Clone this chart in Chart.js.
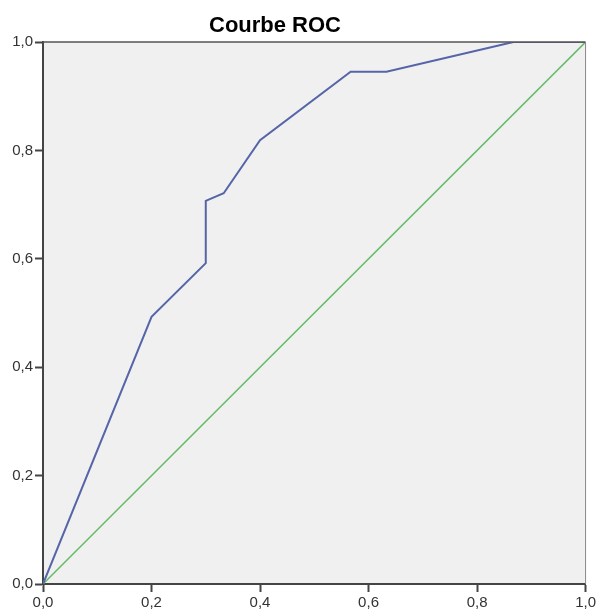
<!DOCTYPE html>
<html>
<head>
<meta charset="utf-8">
<script src="https://cdn.jsdelivr.net/npm/chart.js@4"></script>
<style>
  html, body { margin: 0; padding: 0; background: #fff; }
  #wrap { width: 598px; height: 612px; }
</style>
</head>
<body>
<div id="wrap"><canvas id="roc" width="598" height="612"></canvas></div>
<script>
// courbe ROC (1 - specificite, sensibilite)
var rocX = [0, 0.2, 0.3, 0.3, 0.333, 0.4, 0.567, 0.633, 0.867, 1];
var rocY = [0, 0.493, 0.592, 0.707, 0.721, 0.819, 0.945, 0.945, 1, 1];
// ligne de reference
var refX = [0, 1];
var refY = [0, 1];
var ticks = [0, 0.2, 0.4, 0.6, 0.8, 1];
var titre = 'Courbe ROC';

function points(xs, ys) {
    return xs.map(function (x, i) { return { x: x, y: ys[i] }; });
}

function etiquette(v) {
    return v.toFixed(1).replace('.', ',');
}

// fond gris, cadre et titre
var cadre = {
    id: 'cadre',
    beforeDraw: function (chart) {
        var a = chart.chartArea, ctx = chart.ctx;
        ctx.save();
        ctx.fillStyle = '#f0f0f0';
        ctx.fillRect(a.left, a.top, a.right - a.left, a.bottom - a.top);
        ctx.restore();
    },
    afterDraw: function (chart) {
        var a = chart.chartArea, ctx = chart.ctx;
        ctx.save();
        ctx.strokeStyle = '#555';
        ctx.lineWidth = 1.5;
        ctx.beginPath();
        ctx.moveTo(a.left, a.top);
        ctx.lineTo(a.right, a.top);
        ctx.stroke();
        ctx.strokeStyle = '#888';
        ctx.lineWidth = 1;
        ctx.beginPath();
        ctx.moveTo(a.right, a.top);
        ctx.lineTo(a.right, a.bottom);
        ctx.stroke();
        ctx.fillStyle = '#000';
        ctx.font = 'bold 22px "Liberation Sans", Arial, sans-serif';
        ctx.textAlign = 'center';
        ctx.textBaseline = 'alphabetic';
        ctx.fillText(titre, 275, 32);
        ctx.restore();
    }
};

var ctx = document.getElementById('roc');
var chart = new Chart(ctx, {
    type: 'scatter',
    data: {
        datasets: [{
            data: points(rocX, rocY),
            showLine: true,
            borderColor: '#5565a8',
            borderWidth: 2,
            pointRadius: 0,
            tension: 0
        },
        {
            data: points(refX, refY),
            showLine: true,
            borderColor: '#66bb66',
            borderWidth: 1.5,
            pointRadius: 0,
            tension: 0
        }]
    },
    options: {
        responsive: false,
        animation: false,
        layout: { padding: { top: 42, right: 12, left: 0, bottom: 0 } },
        plugins: {
            legend: { display: false },
            tooltip: { enabled: false },
            title: { display: false }
        },
        scales: {
            x: {
                type: 'linear',
                min: 0,
                max: 1,
                afterBuildTicks: function (axis) {
                    axis.ticks = ticks.map(function (v) { return { value: v }; });
                },
                afterFit: function (axis) { axis.height = 28; },
                ticks: {
                    callback: etiquette,
                    color: '#333',
                    padding: 2,
                    maxRotation: 0,
                    font: { family: '"Liberation Sans", Arial, sans-serif', size: 15 }
                },
                grid: {
                    drawOnChartArea: false,
                    drawTicks: true,
                    tickLength: 8,
                    tickColor: '#444',
                    tickWidth: 2
                },
                border: { color: '#444', width: 2 }
            },
            y: {
                type: 'linear',
                min: 0,
                max: 1,
                afterBuildTicks: function (axis) {
                    axis.ticks = ticks.map(function (v) { return { value: v }; });
                },
                afterFit: function (axis) { axis.width = 43; },
                ticks: {
                    callback: etiquette,
                    color: '#333',
                    padding: 2,
                    font: { family: '"Liberation Sans", Arial, sans-serif', size: 15 }
                },
                grid: {
                    drawOnChartArea: false,
                    drawTicks: true,
                    tickLength: 8,
                    tickColor: '#444',
                    tickWidth: 2
                },
                border: { color: '#444', width: 2 }
            }
        }
    },
    plugins: [cadre]
});
</script>
</body>
</html>
